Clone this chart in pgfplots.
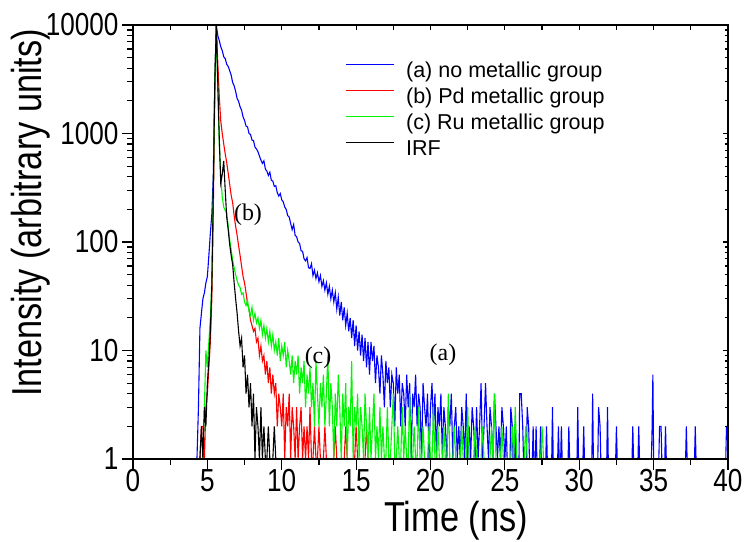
\documentclass[border=0pt]{standalone}
\usepackage{fontspec}
\setmainfont{Liberation Sans}
\newfontfamily\narrowfont[FakeStretch=0.82]{Liberation Sans}
\newfontfamily\seriffont{Liberation Serif}
\usepackage{pgfplots}
\pgfplotsset{compat=1.18}
\definecolor{cblue}{RGB}{0,0,255}
\definecolor{cred}{RGB}{255,0,0}
\definecolor{cgreen}{RGB}{0,245,0}

\begin{document}
\begin{tikzpicture}
\begin{axis}[name=main,
  scale only axis, width=595bp, height=434bp,
  ymode=log, xmin=0, xmax=40, ymin=1, ymax=10000,
  xtick={0,5,...,40}, minor xtick={2.5,7.5,...,37.5},
  ytick={1,10,100,1000,10000}, yticklabels={1,10,100,1000,10000},
  minor ytick={2,3,4,5,6,7,8,9,20,30,40,50,60,70,80,90,200,300,400,500,600,700,800,900,2000,3000,4000,5000,6000,7000,8000,9000},
  xtick pos=left, ytick pos=left, tick align=outside,
  major tick length=11bp, minor tick length=6bp,
  every tick/.style={black, line width=1.2bp},
  axis line style={line width=1.4bp},
  /pgf/number format/assume math mode=true,
  ticklabel style={font=\narrowfont\fontsize{32}{32}\selectfont},
  xticklabel style={yshift=4bp},
  xlabel={Time (ns)}, ylabel={Intensity (arbitrary units)},
  label style={font=\narrowfont\fontsize{42}{42}\selectfont},
  xlabel style={at={(axis description cs:0.543,-0.168)}, anchor=base},
  ylabel style={at={(axis description cs:-0.172,0.567)}, anchor=center},
  legend style={at={(axis description cs:0.356,0.92)}, anchor=north west,
    draw=none, fill=none, inner sep=0pt, row sep=2bp,
    font=\fontsize{21.6}{21.6}\selectfont,
    nodes={text height=15.5bp, text depth=4.5bp},
    /tikz/every odd column/.append style={column sep=10bp}},
  legend cell align=left,
  legend image code/.code={\draw[#1, line width=1.1bp] (0bp,7bp) -- (48bp,7bp);},
  every axis plot/.append style={line width=1.1bp},
]
% (a) no metallic group
\addplot[cblue] coordinates {(0,1)(4.3,1)(4.4,3)(4.5,16)(4.6,22)(4.7,30)(4.8,34)(4.9,42)(5.0,48)(5.1,75)(5.2,120)(5.3,180)(5.4,420)(5.5,3000)(5.6,10000)(5.7,8000)(5.8,7200)(5.9,6300)(6.0,5800)(6.1,5100)(6.2,4900)(6.3,4350)(6.4,4150)(6.5,3800)(6.6,3450)(6.7,2950)(6.8,2750)(6.9,2450)(7.0,2100)(7.1,1980)(7.2,1760)(7.3,1640)(7.4,1420)(7.5,1320)(7.6,1170)(7.7,1150)(7.8,1000)(7.9,980)(8.0,870)(8.1,860)(8.2,750)(8.3,720)(8.4,680)(8.5,620)(8.6,570)(8.7,530)(8.8,560)(8.9,470)(9.0,450)(9.1,410)(9.2,440)(9.3,370)(9.4,365)(9.5,325)(9.6,330)(9.7,285)(9.8,265)(9.9,280)(10.0,245)(10.1,235)(10.2,210)(10.3,200)(10.4,175)(10.5,170)(10.6,148)(10.7,130)(10.8,145)(10.9,115)(11.0,112)(11.1,100)(11.2,97)(11.3,83)(11.4,82)(11.5,70)(11.6,67)(11.7,72)(11.8,58)(11.9,57)(12.0,63)(12.1,49)(12.2,55)(12.3,46)(12.4,52)(12.5,43)(12.6,49)(12.7,39)(12.8,44)(12.9,36)(13.0,42)(13.1,33)(13.2,39)(13.3,30)(13.4,36)(13.5,28)(13.6,34)(13.7,24)(13.8,31)(13.9,21)(14.0,28)(14.1,19)(14.2,25)(14.3,17)(14.4,22)(14.5,15)(14.6,20)(14.7,13)(14.8,19)(14.9,11)(15.0,17)(15.1,10)(15.2,15)(15.3,9)(15.4,14)(15.5,8)(15.6,13)(15.7,7)(15.8,12)(15.9,6)(16.0,12)(16.1,8)(16.2,11)(16.3,5)(16.4,9)(16.5,7)(16.6,4)(16.7,9)(16.8,6)(16.9,3)(17.0,8)(17.1,5)(17.2,7)(17.3,3)(17.4,6)(17.5,5)(17.6,2)(17.7,7)(17.8,4)(17.9,6)(18.0,2)(18.1,5)(18.2,4)(18.3,2)(18.4,6)(18.5,3)(18.6,5)(18.7,1)(18.8,4)(18.9,3)(19.0,6)(19.1,2)(19.2,4)(19.3,3)(19.4,1)(19.5,5)(19.6,3)(19.7,2)(19.8,4)(19.9,1)(20.0,3)(20.1,5)(20.2,2)(20.3,4)(20.4,1)(20.5,3)(20.6,2)(20.7,4)(20.8,1)(20.9,3)(21.0,2)(21.1,1)(21.2,3)(21.3,2)(21.4,4)(21.5,1)(21.6,2)(21.7,3)(21.8,1)(21.9,2)(22.0,1)(22.1,3)(22.2,2)(22.3,1)(22.4,4)(22.5,1)(22.6,2)(22.7,1)(22.8,3)(22.9,2)(23.0,1)(23.1,3)(23.2,1)(23.3,2)(23.4,5)(23.5,1)(23.6,2)(23.7,5)(23.8,2)(23.9,1)(24.0,3)(24.1,2)(24.2,1)(24.3,4)(24.4,2)(24.5,1)(24.6,2)(24.7,1)(24.8,3)(24.9,2)(25.0,1)(25.1,2)(25.15,1)(25.35,1)(25.4,3)(25.5,2)(25.55,1)(25.65,1)(25.7,2)(25.75,1)(25.95,1)(26.0,4)(26.1,4)(26.2,2)(26.25,1)(26.45,1)(26.5,3)(26.6,2)(26.65,1)(26.85,1)(26.9,2)(26.95,1)(27.05,1)(27.1,2)(27.15,1)(27.35,1)(27.4,2)(27.45,1)(27.75,1)(27.8,2)(27.85,1)(28.15,1)(28.2,3)(28.25,1)(28.55,1)(28.6,2)(28.65,1)(28.75,1)(28.8,2)(28.85,1)(29.25,1)(29.3,2)(29.35,1)(29.85,1)(29.9,3)(29.95,1)(30.25,1)(30.3,2)(30.35,1)(30.85,1)(30.9,4)(30.95,1)(31.25,1)(31.3,3)(31.4,2)(31.45,1)(31.85,1)(31.9,3)(31.95,1)(32.45,1)(32.5,2)(32.55,1)(33.55,1)(33.6,2)(33.65,1)(33.95,1)(34.0,2)(34.05,1)(34.85,1)(34.9,2)(34.95,6)(35.0,1)(35.35,1)(35.4,2)(35.5,2)(35.55,1)(35.75,1)(35.8,2)(35.85,1)(37.15,1)(37.2,2)(37.25,1)(37.75,1)(37.8,2)(37.85,1)(39.85,1)(39.9,2)(40,2)};

% (b) Pd metallic group
\addplot[cred] coordinates {(0,1)(4.5,1)(4.6,2)(4.7,2)(4.8,1)(4.9,3)(5.0,4)(5.1,7)(5.2,12)(5.3,30)(5.4,200)(5.5,2500)(5.6,10000)(5.7,4500)(5.8,2200)(5.9,1300)(6.0,1000)(6.1,800)(6.2,650)(6.3,540)(6.4,430)(6.5,340)(6.6,270)(6.7,230)(6.8,175)(6.9,140)(7.0,115)(7.1,92)(7.2,75)(7.3,60)(7.4,48)(7.5,42)(7.6,34)(7.7,27)(7.8,24)(7.9,19)(8.0,17)(8.1,15)(8.2,16)(8.3,12)(8.4,13)(8.5,9)(8.6,11)(8.7,8)(8.8,9)(8.9,6)(9.0,8)(9.1,5)(9.2,7)(9.3,4)(9.4,6)(9.5,4)(9.6,5)(9.7,2)(9.8,4)(9.9,3)(10.0,2)(10.1,4)(10.2,1)(10.3,3)(10.4,2)(10.5,4)(10.6,1)(10.7,3)(10.8,2)(10.9,1)(11.0,3)(11.1,1)(11.2,2)(11.3,3)(11.4,1)(11.5,2)(11.6,1)(11.7,2)(11.8,1)(11.9,3)(12.0,1)(12.1,1)(12.2,2)(12.3,1)(12.4,1)(12.5,2)(12.6,1)(12.8,1)(12.9,2)(13.0,1)(13.5,1)(13.6,2)(13.7,1)(14.2,1)(14.3,2)(14.4,1)(14.9,1)(15.0,2)(15.1,1)(15.6,1)(15.7,2)(15.8,1)(40,1)};

% (c) Ru metallic group
\addplot[cgreen] coordinates {(0,1)(4.7,1)(4.8,3)(4.9,10)(5.0,7)(5.1,12)(5.2,20)(5.3,45)(5.4,300)(5.5,3000)(5.6,9000)(5.7,2500)(5.8,800)(5.9,400)(6.0,260)(6.1,210)(6.2,195)(6.3,185)(6.4,140)(6.5,105)(6.6,85)(6.7,68)(6.8,58)(6.9,50)(7.0,44)(7.1,40)(7.2,38)(7.3,33)(7.4,34)(7.5,28)(7.6,26)(7.7,29)(7.8,23)(7.9,21)(8.0,25)(8.1,19)(8.2,22)(8.3,18)(8.4,20)(8.5,16)(8.6,19)(8.7,14)(8.8,17)(8.9,13)(9.0,16)(9.1,12)(9.2,15)(9.3,11)(9.4,14)(9.5,10)(9.6,12)(9.7,9)(9.8,13)(9.9,8)(10.0,11)(10.1,9)(10.2,12)(10.3,7)(10.4,10)(10.5,8)(10.6,6)(10.7,9)(10.8,5)(10.9,8)(11.0,6)(11.1,9)(11.2,4)(11.3,7)(11.4,5)(11.5,8)(11.6,3)(11.7,6)(11.8,4)(11.9,7)(12.0,3)(12.1,5)(12.2,2)(12.3,8)(12.4,4)(12.5,2)(12.6,5)(12.7,3)(12.8,6)(12.9,2)(13.0,4)(13.1,9)(13.2,2)(13.3,5)(13.4,3)(13.5,1)(13.6,4)(13.7,2)(13.8,6)(13.9,3)(14.0,1)(14.1,4)(14.2,2)(14.3,5)(14.4,1)(14.5,3)(14.6,2)(14.7,8)(14.8,1)(14.9,3)(15.0,2)(15.1,4)(15.2,1)(15.3,3)(15.4,2)(15.5,1)(15.6,4)(15.7,2)(15.8,1)(15.9,3)(16.0,1)(16.1,2)(16.2,4)(16.3,1)(16.4,2)(16.5,1)(16.6,3)(16.7,1)(16.8,2)(16.9,1)(17.0,1)(17.1,3)(17.2,1)(17.3,1)(17.4,2)(17.5,4)(17.6,1)(17.7,1)(17.8,2)(17.9,1)(18.0,1)(18.1,3)(18.2,1)(18.3,2)(18.4,1)(18.5,1)(18.6,4)(18.7,1)(18.8,1)(18.9,2)(19.0,1)(19.1,1)(19.2,3)(19.3,1)(19.4,1)(19.5,2)(19.6,1)(19.8,1)(19.9,2)(20.0,1)(20.1,1)(20.2,3)(20.3,1)(20.4,1)(20.5,2)(20.6,1)(20.8,1)(20.9,2)(21.0,1)(21.1,1)(21.2,4)(21.3,1)(21.5,1)(21.6,2)(21.7,1)(22.0,1)(22.1,2)(22.2,1)(22.4,1)(22.5,3)(22.6,1)(22.9,1)(23.0,2)(23.1,1)(23.4,1)(23.5,2)(23.6,1)(24.0,1)(24.1,2)(24.2,1)(24.3,4)(24.4,1)(24.7,1)(24.8,2)(24.9,1)(25.4,1)(25.5,2)(25.6,1)(25.7,3)(25.8,1)(26.3,1)(26.4,2)(26.5,1)(27.4,1)(27.5,2)(27.6,1)(40,1)};

% IRF
\addplot[black] coordinates {(0,1)(4.5,1)(4.6,2)(4.7,1)(4.8,3)(4.9,2)(5.0,5)(5.1,8)(5.2,15)(5.3,40)(5.4,300)(5.5,3000)(5.6,10000)(5.7,3000)(5.8,900)(5.9,350)(6.0,420)(6.1,560)(6.2,300)(6.3,170)(6.4,130)(6.5,95)(6.6,75)(6.7,62)(6.8,42)(6.9,30)(7.0,22)(7.1,15)(7.2,11)(7.3,13)(7.4,7)(7.5,9)(7.6,4)(7.7,6)(7.8,3)(7.9,5)(8.0,2)(8.1,4)(8.2,1)(8.3,3)(8.4,2)(8.5,1)(8.6,3)(8.7,1)(8.8,2)(8.9,1)(9.0,1)(9.1,2)(9.2,1)(9.4,1)(9.5,2)(9.6,1)(40,1)};

\legend{(a) no metallic group, (b) Pd metallic group, (c) Ru metallic group, IRF}

\node[font=\seriffont\fontsize{24}{24}\selectfont] at (axis cs:7.73,177) {(b)};
\node[font=\seriffont\fontsize{24}{24}\selectfont] at (axis cs:12.44,8.5) {(c)};
\node[font=\seriffont\fontsize{24}{24}\selectfont] at (axis cs:20.84,9.2) {(a)};
\end{axis}

\begin{axis}[at={(main.south west)}, anchor=south west,
  scale only axis, width=595bp, height=434bp,
  ymode=log, xmin=0, xmax=40, ymin=1, ymax=10000,
  xtick={0,2.5,...,40}, xticklabels={},
  ytick={1,10,100,1000,10000}, yticklabels={},
  minor ytick={2,3,4,5,6,7,8,9,20,30,40,50,60,70,80,90,200,300,400,500,600,700,800,900,2000,3000,4000,5000,6000,7000,8000,9000},
  xtick pos=right, ytick pos=right, tick align=inside,
  major tick length=5bp, minor tick length=3bp,
  every tick/.style={black, line width=1.2bp},
  axis line style={line width=1.4bp},
]
\end{axis}

\pgfresetboundingbox
\path ([shift={(-133bp,-83bp)}]main.south west) rectangle ([shift={(17bp,25bp)}]main.north east);
\end{tikzpicture}
\end{document}
